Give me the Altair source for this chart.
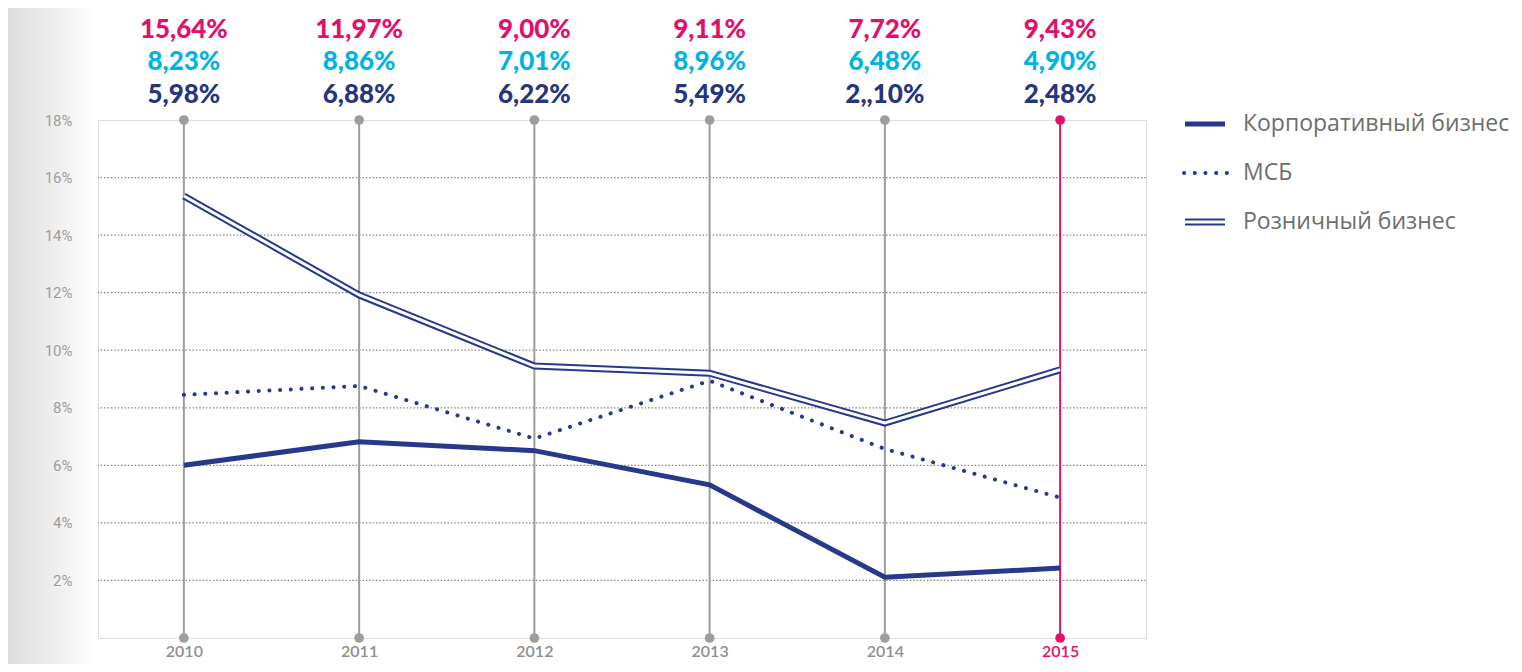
import altair as alt
import pandas as pd

years = ["2010", "2011", "2012", "2013", "2014", "2015"]
# plotted line values
corp = [6.00, 6.82, 6.51, 5.32, 2.11, 2.43]
msb = [8.45, 8.76, 6.93, 8.94, 6.57, 4.88]
retail = [15.36, 11.92, 9.45, 9.20, 7.47, 9.32]
# printed header labels
retail_labels = ["15,64%", "11,97%", "9,00%", "9,11%", "7,72%", "9,43%"]
msb_labels = ["8,23%", "8,86%", "7,01%", "8,96%", "6,48%", "4,90%"]
corp_labels = ["5,98%", "6,88%", "6,22%", "5,49%", "2,,10%", "2,48%"]
y_ticks = [2, 4, 6, 8, 10, 12, 14, 16, 18]
grid_levels = [2, 4, 6, 8, 10, 12, 14, 16]
series_names = ["Корпоративный бизнес", "МСБ", "Розничный бизнес"]
highlight_year = "2015"

NAVY = "#27398a"
NAVY_TXT = "#26367c"
CYAN = "#00b3e3"
MAGENTA = "#e2106a"
GRAY = "#9d9d9d"
LEG_GRAY = "#6e6e6e"

W, H = 1048, 518
PAD_TOP = 112

df = pd.DataFrame({
    "year": years, "corp": corp, "msb": msb, "retail": retail,
    "rl": retail_labels, "ml": msb_labels, "cl": corp_labels,
})
df["hl"] = df["year"] == highlight_year

xs = alt.Scale(type="point", domain=years, padding=0.49)
ys = alt.Scale(domain=[0, 18], nice=False, zero=True)

X = alt.X("year:O", scale=xs,
          axis=alt.Axis(title=None, domain=False, ticks=False, labelPadding=5,
                        labelFont="Lato", labelFontSize=16, labelFontWeight=600,
                        labelAngle=0,
                        labelColor={"condition": {"test": f"datum.value == '{highlight_year}'",
                                                  "value": MAGENTA}, "value": "#8f8f8f"},
                        grid=False))

base = alt.Chart(df)

# left gradient band
grad = alt.Chart(pd.DataFrame({"a": [0]})).mark_rect(
    fill=alt.LinearGradient(gradient="linear", x1=0, x2=1, y1=0, y2=0,
                            stops=[alt.GradientStop(color="#dcdcdc", offset=0),
                                   alt.GradientStop(color="#ffffff", offset=1)]),
    clip=False,
).encode(x=alt.value(-90), x2=alt.value(-2), y=alt.value(-PAD_TOP), y2=alt.value(H + 26))

# y axis layer + dotted grid
grid_df = pd.DataFrame({"lvl": grid_levels})
grid = alt.Chart(grid_df).mark_rule(color="#8a8a8a", strokeWidth=1.2, strokeDash=[1.6, 1.8]).encode(
    y=alt.Y("lvl:Q", scale=ys,
            axis=alt.Axis(title=None, values=y_ticks, labelExpr="datum.value + '%'",
                          domain=False, ticks=False, tickSize=0, labelPadding=26,
                          labelFont="Roboto", labelFontSize=15, labelColor=GRAY,
                          grid=False, zindex=1)),
)

# vertical year rules
vrules = base.mark_rule(strokeWidth=2).encode(
    x=X,
    y=alt.Y("zero:Q", scale=ys),
    y2=alt.Y2("top:Q"),
    color=alt.condition("datum.hl", alt.value(MAGENTA), alt.value(GRAY)),
).transform_calculate(zero="0", top="18")

dots_top = base.mark_circle(size=95, opacity=1).encode(
    x=X, y=alt.Y("top:Q", scale=ys),
    color=alt.condition("datum.hl", alt.value(MAGENTA), alt.value(GRAY)),
).transform_calculate(top="18")
dots_bot = base.mark_circle(size=95, opacity=1).encode(
    x=X, y=alt.Y("zero:Q", scale=ys),
    color=alt.condition("datum.hl", alt.value(MAGENTA), alt.value(GRAY)),
).transform_calculate(zero="0")

# series lines
retail_outer = base.mark_line(color=NAVY, strokeWidth=7, strokeJoin="miter").encode(
    x=X, y=alt.Y("retail:Q", scale=ys))
retail_inner = base.mark_line(color="white", strokeWidth=3, strokeJoin="miter").encode(
    x=X, y=alt.Y("retail:Q", scale=ys))
msb_line = base.mark_line(color=NAVY, strokeWidth=4, strokeDash=[0.1, 10.6], strokeCap="round").encode(
    x=X, y=alt.Y("msb:Q", scale=ys))
corp_line = base.mark_line(color=NAVY, strokeWidth=5).encode(
    x=X, y=alt.Y("corp:Q", scale=ys))

# header labels
def header(col, color, dy):
    return base.mark_text(font="Lato", fontSize=26, fontWeight=900, color=color,
                          baseline="middle", align="center").encode(
        x=X, y=alt.value(dy), text=f"{col}:N")

h1 = header("rl", MAGENTA, -90)
h2 = header("ml", CYAN, -58)
h3 = header("cl", NAVY_TXT, -25)

# legend
one = pd.DataFrame({"a": [0]})
LX1, LX2, LT = 1087, 1127, 1145
ly = [4, 53, 102]
leg_corp = alt.Chart(one).mark_rule(color=NAVY, strokeWidth=5).encode(
    x=alt.value(LX1), x2=alt.value(LX2), y=alt.value(ly[0]))
leg_msb = alt.Chart(one).mark_rule(color=NAVY, strokeWidth=4, strokeDash=[0.1, 10.6], strokeCap="round").encode(
    x=alt.value(LX1 - 1), x2=alt.value(LX2 + 3), y=alt.value(ly[1]))
leg_ret_o = alt.Chart(one).mark_rule(color=NAVY, strokeWidth=7).encode(
    x=alt.value(LX1), x2=alt.value(LX2), y=alt.value(ly[2]))
leg_ret_i = alt.Chart(one).mark_rule(color="white", strokeWidth=3).encode(
    x=alt.value(LX1 - 1), x2=alt.value(LX2 + 1), y=alt.value(ly[2]))
leg_txt = [
    alt.Chart(one).mark_text(text=name, font="Open Sans", fontSize=23, color=LEG_GRAY,
                             align="left", baseline="middle").encode(
        x=alt.value(LT), y=alt.value(yy))
    for name, yy in zip(series_names, ly)
]

chart = alt.layer(
    grad, grid, vrules, dots_top, dots_bot,
    retail_outer, retail_inner, msb_line, corp_line,
    h1, h2, h3,
    leg_corp, leg_msb, leg_ret_o, leg_ret_i, *leg_txt,
).properties(
    width=W, height=H,
    autosize=alt.AutoSizeParams(type="none"),
    padding={"left": 90, "top": PAD_TOP, "right": 368, "bottom": 26},
).configure_view(stroke=GRAY, strokeWidth=2).configure(background="white")

chart.save("out.html", embed_options={"renderer": "svg", "actions": False})
